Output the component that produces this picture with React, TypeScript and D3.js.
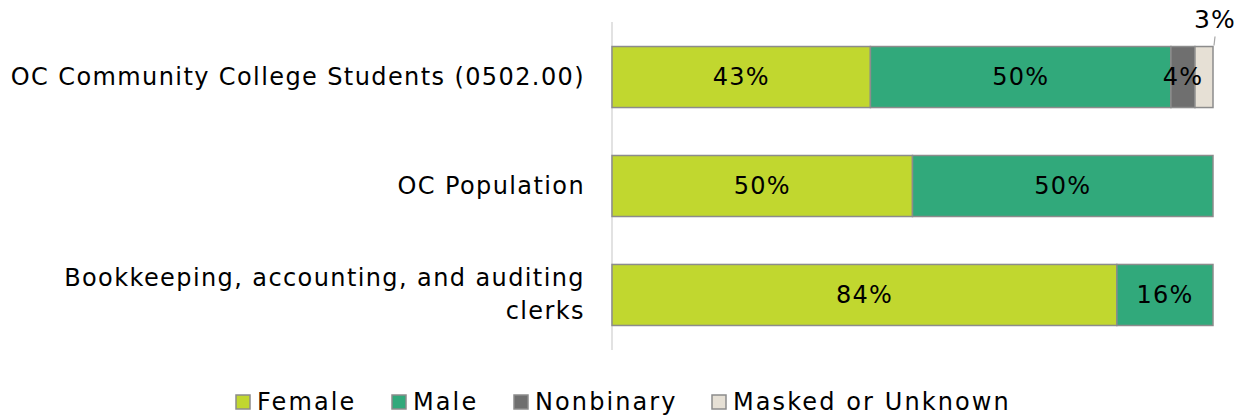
import React from "react";
import * as d3 from "d3";

const categories = [
  "OC Community College Students (0502.00)",
  "OC Population",
  "Bookkeeping, accounting, and auditing clerks",
];
const seriesNames = ["Female", "Male", "Nonbinary", "Masked or Unknown"];
const female = [43, 50, 84];
const male = [50, 50, 16];
const nonbinary = [4, 0, 0];
const masked = [3, 0, 0];
const colors = ["#C1D72F", "#31A97B", "#6F6F6F", "#E6E0D5"];
const xTicks = [0, 100];

const W = 1243;
const H = 419;
const FONT = "'DejaVu Sans', sans-serif";

export default function App() {
  const x = d3.scaleLinear().domain([0, 100]).range([612, 1213]);
  const y = d3.scaleBand<string>().domain(categories).range([22, 350]).paddingInner(0.44).paddingOuter(0.225);
  const table = categories.map((c, i) => ({
    cat: c,
    Female: female[i],
    Male: male[i],
    Nonbinary: nonbinary[i],
    "Masked or Unknown": masked[i],
  }));
  const stacked = d3.stack<any>().keys(seriesNames)(table);
  const bh = y.bandwidth();

  const wrapLabel = (c: string): string[] =>
    c.startsWith("Bookkeeping") ? ["Bookkeeping, accounting, and auditing", "clerks"] : [c];

  const legendX = [236, 392, 514, 712];

  return (
    <svg width={W} height={H} style={{ position: "absolute", left: 0, top: 0 }} fontFamily={FONT}>
      <rect width={W} height={H} fill="#fff" />
      <line x1={x(xTicks[0])} x2={x(xTicks[0])} y1={22} y2={350} stroke="#D9D9D9" strokeWidth={1.5} />
      {stacked.map((s, si) =>
        s.map((d, i) => {
          const w = x(d[1]) - x(d[0]);
          if (w <= 0) return null;
          return (
            <rect
              key={`${si}-${i}`}
              x={x(d[0])}
              y={y(categories[i])!}
              width={w}
              height={bh}
              fill={colors[si]}
              stroke="#8C8C8C"
              strokeWidth={1.5}
            />
          );
        })
      )}
      {stacked.map((s, si) =>
        s.map((d, i) => {
          const v = d[1] - d[0];
          if (v <= 0) return null;
          const cy = y(categories[i])! + bh / 2;
          if (si === 3) {
            const lx = x(d[1]);
            return (
              <g key={`l${si}-${i}`}>
                <line x1={lx + 1} y1={y(categories[i])! - 1} x2={lx + 2} y2={y(categories[i])! - 10} stroke="#A6A6A6" strokeWidth={1.2} />
                <text x={lx + 2} y={19} textAnchor="middle" dominantBaseline="central" fontSize={25} letterSpacing={1.2} fill="#000">
                  {v}%
                </text>
              </g>
            );
          }
          return (
            <text
              key={`l${si}-${i}`}
              x={(x(d[0]) + x(d[1])) / 2}
              y={cy}
              textAnchor="middle"
              dominantBaseline="central"
              fontSize={24}
              letterSpacing={1.2}
              fill="#000"
            >
              {v}%
            </text>
          );
        })
      )}
      {categories.map((c) => {
        const lines = wrapLabel(c);
        const cy = y(c)! + bh / 2;
        return (
          <text key={c} x={585} y={cy} textAnchor="end" fontSize={24} letterSpacing={1.4} fill="#000">
            {lines.map((l, li) => (
              <tspan key={li} x={585} y={cy + (li - (lines.length - 1) / 2) * 33} dominantBaseline="central">
                {l}
              </tspan>
            ))}
          </text>
        );
      })}
      {seriesNames.map((n, i) => (
        <g key={n}>
          <rect x={legendX[i]} y={395} width={14} height={14} fill={colors[i]} stroke="#8C8C8C" strokeWidth={1.5} />
          <text x={legendX[i] + 21} y={402} dominantBaseline="central" fontSize={24} letterSpacing={2.1} fill="#000">
            {n}
          </text>
        </g>
      ))}
    </svg>
  );
}
